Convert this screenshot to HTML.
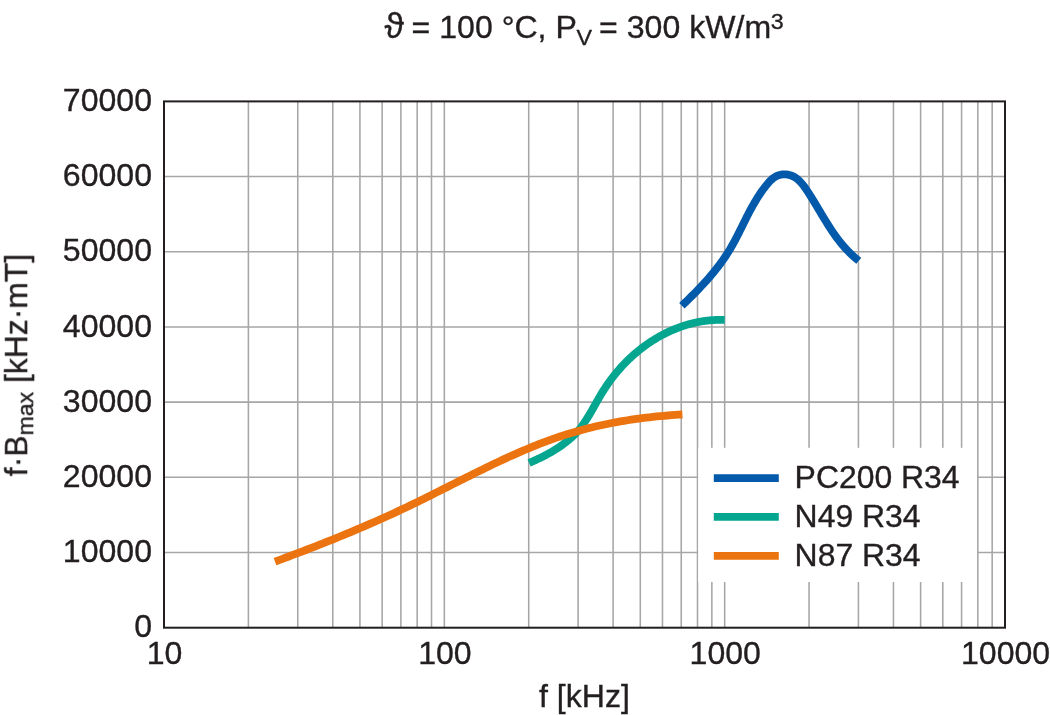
<!DOCTYPE html>
<html><head><meta charset="utf-8"><title>chart</title>
<style>
html,body{margin:0;padding:0;background:#fff;}
body{width:1050px;height:715px;overflow:hidden;}
svg{display:block;}
svg text{font-family:"Liberation Sans",sans-serif;font-size:31px;fill:#231f20;stroke:#231f20;stroke-width:0.35px;}
</style></head><body>
<svg width="1050" height="715" viewBox="0 0 1050 715">
<rect width="1050" height="715" fill="#fff"/>
<path d="M248.39 101.40 V627.70 M297.75 101.40 V627.70 M332.78 101.40 V627.70 M359.94 101.40 V627.70 M382.14 101.40 V627.70 M400.91 101.40 V627.70 M417.17 101.40 V627.70 M431.51 101.40 V627.70 M444.33 101.40 V627.70 M528.72 101.40 V627.70 M578.09 101.40 V627.70 M613.11 101.40 V627.70 M640.28 101.40 V627.70 M662.48 101.40 V627.70 M681.24 101.40 V627.70 M697.50 101.40 V627.70 M711.84 101.40 V627.70 M724.67 101.40 V627.70 M809.06 101.40 V627.70 M858.42 101.40 V627.70 M893.44 101.40 V627.70 M920.61 101.40 V627.70 M942.81 101.40 V627.70 M961.58 101.40 V627.70 M977.83 101.40 V627.70 M992.17 101.40 V627.70 M164.00 552.51 H1005.00 M164.00 477.33 H1005.00 M164.00 402.14 H1005.00 M164.00 326.96 H1005.00 M164.00 251.77 H1005.00 M164.00 176.59 H1005.00" stroke="#a6a6a6" stroke-width="1.55" fill="none"/>
<rect x="698.2" y="447.8" width="278.8" height="134.2" fill="#fff"/>
<path d="M681.90 305.70 L683.62 304.04 L685.35 302.37 L687.07 300.69 L688.78 299.01 L690.50 297.31 L692.21 295.61 L693.91 293.89 L695.60 292.17 L697.29 290.43 L698.97 288.69 L700.63 286.93 L702.29 285.17 L703.93 283.39 L705.56 281.59 L707.18 279.79 L708.78 277.97 L710.36 276.14 L711.93 274.30 L713.47 272.44 L715.00 270.57 L716.50 268.68 L717.99 266.78 L719.45 264.86 L720.88 262.92 L722.29 260.97 L723.68 259.00 L725.04 257.02 L726.37 255.02 L727.67 253.00 L728.93 250.96 L730.17 248.90 L731.38 246.83 L732.57 244.75 L733.73 242.64 L734.88 240.53 L736.00 238.41 L737.11 236.27 L738.21 234.13 L739.29 231.98 L740.37 229.83 L741.45 227.67 L742.52 225.51 L743.59 223.35 L744.67 221.18 L745.75 219.02 L746.83 216.87 L747.93 214.72 L749.04 212.57 L750.17 210.43 L751.31 208.30 L752.48 206.18 L753.67 204.07 L754.88 201.98 L756.13 199.90 L757.40 197.83 L758.71 195.79 L760.05 193.76 L761.43 191.75 L762.85 189.76 L764.32 187.80 L765.83 185.86 L767.39 183.95 L769.01 182.09 L770.71 180.34 L772.50 178.74 L774.38 177.33 L776.39 176.16 L778.53 175.26 L780.79 174.67 L783.13 174.38 L785.50 174.38 L787.86 174.66 L790.15 175.20 L792.33 176.00 L794.38 177.05 L796.31 178.31 L798.13 179.76 L799.85 181.38 L801.49 183.13 L803.04 185.01 L804.54 186.98 L805.98 189.02 L807.38 191.10 L808.74 193.20 L810.09 195.30 L811.41 197.41 L812.71 199.51 L814.00 201.61 L815.27 203.71 L816.53 205.80 L817.78 207.89 L819.02 209.98 L820.26 212.06 L821.50 214.13 L822.74 216.20 L823.98 218.25 L825.23 220.30 L826.48 222.33 L827.75 224.36 L829.02 226.37 L830.31 228.36 L831.62 230.34 L832.95 232.31 L834.30 234.26 L835.67 236.19 L837.08 238.10 L838.51 239.99 L839.97 241.86 L841.46 243.71 L842.99 245.54 L844.56 247.34 L846.18 249.12 L847.83 250.87 L849.53 252.60 L851.28 254.30 L853.08 255.97 L854.93 257.61 L856.84 259.22 L858.81 260.80" stroke="#035aaa" stroke-width="7.8" fill="none" stroke-linejoin="round"/>
<path d="M529.09 462.99 L531.02 462.15 L532.95 461.28 L534.88 460.40 L536.82 459.50 L538.75 458.58 L540.68 457.64 L542.61 456.67 L544.52 455.69 L546.43 454.68 L548.33 453.65 L550.22 452.59 L552.09 451.51 L553.94 450.41 L555.78 449.27 L557.60 448.12 L559.39 446.93 L561.16 445.71 L562.91 444.47 L564.62 443.20 L566.31 441.89 L567.97 440.56 L569.59 439.19 L571.17 437.79 L572.72 436.36 L574.23 434.90 L575.70 433.40 L577.12 431.86 L578.50 430.29 L579.84 428.69 L581.13 427.05 L582.39 425.38 L583.61 423.68 L584.80 421.96 L585.96 420.21 L587.10 418.45 L588.21 416.66 L589.31 414.85 L590.38 413.03 L591.45 411.20 L592.50 409.36 L593.55 407.51 L594.60 405.65 L595.64 403.80 L596.68 401.93 L597.74 400.07 L598.80 398.22 L599.87 396.36 L600.95 394.52 L602.06 392.68 L603.19 390.86 L604.34 389.05 L605.51 387.26 L606.71 385.48 L607.93 383.71 L609.17 381.96 L610.43 380.23 L611.72 378.51 L613.03 376.81 L614.36 375.12 L615.71 373.46 L617.09 371.81 L618.48 370.18 L619.90 368.56 L621.34 366.97 L622.79 365.40 L624.27 363.84 L625.77 362.31 L627.29 360.79 L628.82 359.30 L630.38 357.83 L631.95 356.38 L633.54 354.95 L635.15 353.55 L636.78 352.16 L638.43 350.80 L640.09 349.47 L641.77 348.16 L643.47 346.87 L645.19 345.61 L646.92 344.37 L648.67 343.16 L650.43 341.97 L652.21 340.81 L654.01 339.68 L655.82 338.57 L657.64 337.50 L659.49 336.45 L661.34 335.42 L663.21 334.43 L665.09 333.47 L666.99 332.53 L668.90 331.63 L670.83 330.75 L672.76 329.91 L674.71 329.09 L676.68 328.31 L678.65 327.56 L680.64 326.85 L682.64 326.16 L684.65 325.51 L686.67 324.89 L688.70 324.30 L690.75 323.75 L692.80 323.24 L694.87 322.76 L696.94 322.31 L699.02 321.90 L701.12 321.52 L703.22 321.19 L705.33 320.88 L707.45 320.62 L709.58 320.39 L711.72 320.21 L713.87 320.06 L716.02 319.94 L718.18 319.87 L720.35 319.84 L722.52 319.85 L724.71 319.90" stroke="#04a68f" stroke-width="7.8" fill="none" stroke-linejoin="round"/>
<path d="M275.00 561.60 L278.44 560.33 L281.89 559.06 L285.33 557.78 L288.77 556.50 L292.20 555.21 L295.63 553.92 L299.07 552.62 L302.49 551.31 L305.92 550.00 L309.34 548.68 L312.76 547.36 L316.18 546.02 L319.59 544.69 L323.00 543.34 L326.41 541.99 L329.81 540.62 L333.21 539.26 L336.61 537.88 L340.01 536.50 L343.40 535.10 L346.78 533.70 L350.17 532.30 L353.55 530.88 L356.92 529.45 L360.29 528.02 L363.66 526.58 L367.03 525.13 L370.39 523.67 L373.74 522.20 L377.09 520.72 L380.44 519.23 L383.78 517.73 L387.12 516.22 L390.46 514.70 L393.79 513.17 L397.11 511.63 L400.43 510.08 L403.75 508.52 L407.06 506.95 L410.36 505.37 L413.66 503.77 L416.96 502.17 L420.25 500.56 L423.54 498.94 L426.83 497.31 L430.11 495.68 L433.39 494.04 L436.67 492.39 L439.95 490.75 L443.22 489.10 L446.50 487.44 L449.77 485.79 L453.05 484.14 L456.32 482.48 L459.60 480.83 L462.88 479.18 L466.15 477.54 L469.44 475.89 L472.72 474.26 L476.00 472.62 L479.29 471.00 L482.59 469.38 L485.88 467.77 L489.18 466.17 L492.49 464.58 L495.80 463.00 L499.11 461.44 L502.43 459.88 L505.76 458.35 L509.09 456.82 L512.43 455.32 L515.77 453.83 L519.13 452.36 L522.48 450.91 L525.85 449.48 L529.23 448.07 L532.61 446.68 L536.00 445.32 L539.40 443.98 L542.81 442.67 L546.23 441.38 L549.66 440.12 L553.09 438.89 L556.54 437.69 L560.00 436.52 L563.47 435.38 L566.95 434.28 L570.45 433.20 L573.95 432.16 L577.46 431.16 L580.99 430.18 L584.52 429.23 L588.06 428.32 L591.62 427.44 L595.18 426.58 L598.75 425.76 L602.32 424.97 L605.91 424.21 L609.50 423.48 L613.10 422.77 L616.71 422.10 L620.32 421.45 L623.94 420.83 L627.57 420.24 L631.20 419.68 L634.83 419.14 L638.47 418.64 L642.12 418.15 L645.77 417.70 L649.42 417.27 L653.08 416.86 L656.74 416.48 L660.40 416.13 L664.06 415.80 L667.73 415.49 L671.39 415.21 L675.06 414.96 L678.73 414.72 L682.40 414.51" stroke="#ec7410" stroke-width="7.8" fill="none" stroke-linejoin="round"/>
<rect x="164.00" y="101.40" width="841.00" height="526.30" fill="none" stroke="#231f20" stroke-width="2"/>
<defs><filter id="ga" filterUnits="userSpaceOnUse" x="0" y="0" width="1050" height="715"><feOffset dx="0" dy="0"/></filter></defs>
<g filter="url(#ga)">
<path d="M713.8 478.10 H778.8" stroke="#035aaa" stroke-width="7.7"/>
<text transform="translate(794.60 488.30) scale(1.0300 1)" text-anchor="start">PC200 R34</text>
<path d="M713.8 516.95 H778.8" stroke="#04a68f" stroke-width="7.7"/>
<text transform="translate(794.60 527.15) scale(1.0300 1)" text-anchor="start">N49 R34</text>
<path d="M713.8 555.80 H778.8" stroke="#ec7410" stroke-width="7.7"/>
<text transform="translate(794.60 566.00) scale(1.0300 1)" text-anchor="start">N87 R34</text>
<text transform="translate(152.00 637.30) scale(1.0350 1)" text-anchor="end">0</text>
<text transform="translate(152.00 562.11) scale(1.0350 1)" text-anchor="end">10000</text>
<text transform="translate(152.00 486.93) scale(1.0350 1)" text-anchor="end">20000</text>
<text transform="translate(152.00 411.74) scale(1.0350 1)" text-anchor="end">30000</text>
<text transform="translate(152.00 336.56) scale(1.0350 1)" text-anchor="end">40000</text>
<text transform="translate(152.00 261.37) scale(1.0350 1)" text-anchor="end">50000</text>
<text transform="translate(152.00 186.19) scale(1.0350 1)" text-anchor="end">60000</text>
<text transform="translate(152.00 111.00) scale(1.0350 1)" text-anchor="end">70000</text>
<text transform="translate(164.60 664.00) scale(1.0350 1)" text-anchor="middle">10</text>
<text transform="translate(444.93 664.00) scale(1.0350 1)" text-anchor="middle">100</text>
<text transform="translate(725.27 664.00) scale(1.0350 1)" text-anchor="middle">1000</text>
<text transform="translate(1005.60 664.00) scale(1.0350 1)" text-anchor="middle">10000</text>
<text transform="translate(584.40 706.90) scale(1.0350 1)" text-anchor="middle">f [kHz]</text>
<text transform="translate(384.60 38.10) scale(1.0350 1)" text-anchor="start"><tspan font-size="34.5">ϑ</tspan><tspan dx="-1.4"> = 100 °C, P</tspan><tspan font-size="22.5" dy="6.6" dx="-0.3">V</tspan><tspan dy="-6.6" dx="-1.8"> = 300 kW/m</tspan><tspan font-size="22.5" dy="-9.6" dx="-0.4">3</tspan></text>
<text transform="translate(27.1 476.2) rotate(-90) scale(1.0280 1)">f·B<tspan font-size="22.5" dy="6.4">max</tspan><tspan dy="-6.4"> [kHz·mT]</tspan></text>
</g>
</svg>
</body></html>
